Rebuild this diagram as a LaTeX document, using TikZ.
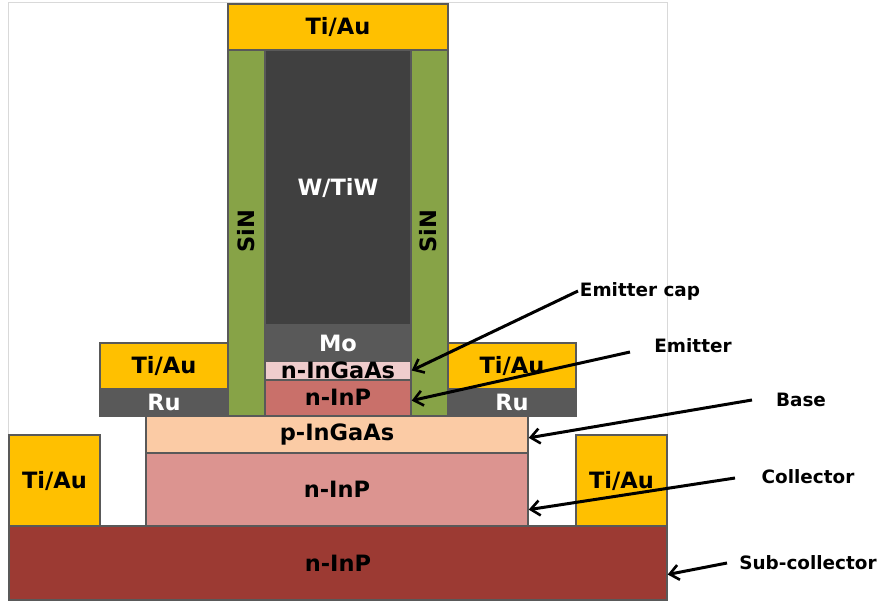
\documentclass[tikz,border=0pt]{standalone}
\usepackage{fontspec}
\setmainfont{DejaVu Sans}
\usetikzlibrary{arrows.meta}
\definecolor{tiau}{HTML}{FFC000}
\definecolor{sin}{HTML}{87A347}
\definecolor{wtiw}{HTML}{404040}
\definecolor{moly}{HTML}{595959}
\definecolor{capcol}{HTML}{EFCCCC}
\definecolor{emitcol}{HTML}{C9706A}
\definecolor{basecol}{HTML}{FBCBA5}
\definecolor{collcol}{HTML}{DC9490}
\definecolor{subcol}{HTML}{9C3A33}
\tikzset{
  layer/.style={draw=black!65,line width=1.4pt,inner sep=0pt,font=\fontsize{22.5}{23}\selectfont\bfseries},
  tagtext/.style={inner sep=0pt,font=\fontsize{18.4}{19}\selectfont\bfseries},
  pointer/.style={line width=3pt,-{Straight Barb[length=9pt,width=15pt,line width=2.6pt]}}
}
\begin{document}
\begin{tikzpicture}[x=1pt,y=-1pt]
\useasboundingbox (0,0) rectangle (878,602);
\draw[black!15,line width=1pt,fill=white] (8,3) rectangle (667,600);
% contacts and sidewalls
\node[layer,fill=tiau,minimum width=220,minimum height=46](topmetal)at(338,27){Ti/Au};
\node[layer,fill=sin,minimum width=37,minimum height=366](sinleft)at(246.5,233){};
\node[layer,fill=sin,minimum width=37,minimum height=366](sinright)at(429.5,233){};
\node[layer,draw=none,rotate=90](sinlefttext)at(246.5,231){SiN};
\node[layer,draw=none,rotate=90](sinrighttext)at(428.5,231){SiN};
\node[layer,fill=tiau,minimum width=128,minimum height=46](baseleft)at(164,366){Ti/Au};
\node[layer,fill=moly,text=white,minimum width=128,minimum height=27](ruleft)at(164,402.5){Ru};
\node[layer,fill=tiau,minimum width=128,minimum height=46](baseright)at(512,366){Ti/Au};
\node[layer,fill=moly,text=white,minimum width=128,minimum height=27](ruright)at(512,402.5){Ru};
% emitter stack
\node[layer,fill=wtiw,text=white,minimum width=146,minimum height=275](tungsten)at(338,187.5){W/TiW};
\node[layer,fill=moly,text=white,minimum width=146,minimum height=36](molybdenum)at(338,343){Mo};
\node[layer,fill=capcol,minimum width=146,minimum height=19](capbox)at(338,370.5){\raisebox{1pt}{n-InGaAs}};
\node[layer,fill=emitcol,minimum width=146,minimum height=36](emitbox)at(338,398){\raisebox{1pt}{n-InP}};
% base, collector
\node[layer,fill=basecol,minimum width=382,minimum height=37](basebox)at(337,434.5){p-InGaAs};
\node[layer,fill=collcol,minimum width=382,minimum height=73](collbox)at(337,489.5){n-InP};
\node[layer,fill=tiau,minimum width=91,minimum height=91](collleft)at(54.5,480.5){Ti/Au};
\node[layer,fill=tiau,minimum width=91,minimum height=91](collright)at(621.5,480.5){Ti/Au};
\node[layer,fill=subcol,minimum width=658,minimum height=74](subbox)at(338,563){n-InP};
% labels
\node[tagtext](captag)at(640,291){Emitter cap};
\node[tagtext](emittag)at(693,346){Emitter};
\node[tagtext](basetag)at(801,400){Base};
\node[tagtext](colltag)at(808,477){Collector};
\node[tagtext](subtag)at(808,563){Sub-collector};
\coordinate(capfrom)at(578,291);
\coordinate(emitfrom)at(630,352);
\coordinate(basefrom)at(752,400);
\coordinate(collfrom)at(735,478);
\coordinate(subfrom)at(727,563);
\draw[pointer](capfrom)--(capbox.east);
\draw[pointer](emitfrom)--(emitbox.-2.4);
\draw[pointer](basefrom)--(basebox.-1);
\draw[pointer](collfrom)--(collbox.-6.1);
\draw[pointer](subfrom)--(subbox.-2.8);
\end{tikzpicture}
\end{document}
